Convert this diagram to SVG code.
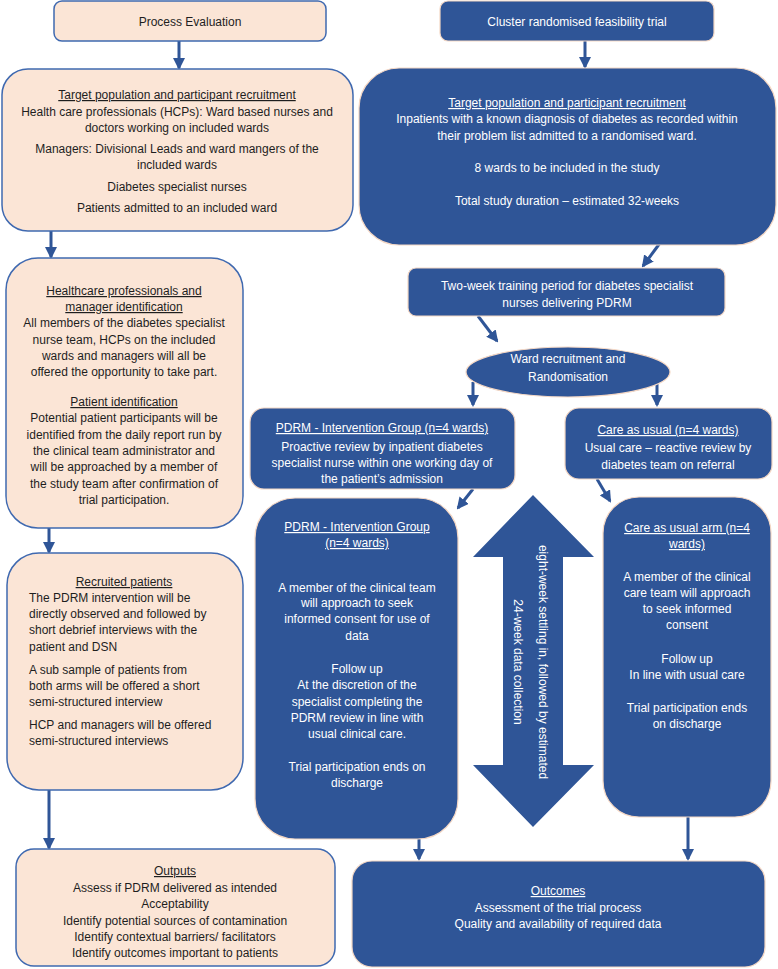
<svg xmlns="http://www.w3.org/2000/svg" width="778" height="969" viewBox="0 0 778 969">
<defs>
<marker id="ah" markerUnits="userSpaceOnUse" markerWidth="12" markerHeight="12" viewBox="0 0 12 12" refX="10" refY="6" orient="auto">
<path d="M0,0 L12,6 L0,12 Z" fill="#2F5597"/>
</marker>
</defs>
<style>
.pe{fill:#FBE5D6;stroke:#3F69B0;stroke-width:1.5}
.bl{fill:#2F5597;stroke:#F4D7C4;stroke-width:1.2}
text{font-family:"Liberation Sans",Arial,sans-serif;font-size:12px;text-anchor:middle}
.dk{fill:#1E1E1E}
.wt{fill:#FFFFFF}
.u{text-decoration:underline}
.l{text-anchor:start}
.cn{stroke:#2F5597;stroke-width:3;fill:none;marker-end:url(#ah)}
</style>
<g id="connectors">
<line class="cn" x1="179" y1="41" x2="179" y2="68"/>
<line class="cn" x1="51" y1="231" x2="51" y2="257"/>
<line class="cn" x1="49" y1="528" x2="49" y2="552"/>
<line class="cn" x1="49" y1="790" x2="49" y2="848"/>
<line class="cn" x1="585" y1="41" x2="585" y2="67"/>
<line class="cn" x1="660" y1="243" x2="643" y2="266"/>
<line class="cn" x1="478" y1="316" x2="497" y2="341"/>
<line class="cn" x1="473" y1="382" x2="473" y2="405"/>
<line class="cn" x1="657" y1="382" x2="657" y2="405"/>
<line class="cn" x1="473" y1="489" x2="458" y2="508"/>
<line class="cn" x1="597" y1="479" x2="610" y2="501"/>
<line class="cn" x1="419" y1="839" x2="419" y2="859"/>
<line class="cn" x1="688" y1="817" x2="688" y2="859"/>
</g>
<g id="process-evaluation">
<rect class="pe" x="54" y="1" width="272" height="40" rx="8"/>
<text class="dk" x="190" y="26">Process Evaluation</text>
</g>
<g id="pe-target">
<rect class="pe" x="2" y="69" width="351" height="162" rx="26"/>
<text class="dk u" x="177" y="99">Target population and participant recruitment</text>
<text class="dk" x="177" y="116">Health care professionals (HCPs): Ward based nurses and</text>
<text class="dk" x="177" y="132">doctors working on included wards</text>
<text class="dk" x="177" y="153">Managers: Divisional Leads and ward mangers of the</text>
<text class="dk" x="177" y="169">included wards</text>
<text class="dk" x="177" y="191">Diabetes specialist nurses</text>
<text class="dk" x="177" y="212">Patients admitted to an included ward</text>
</g>
<g id="pe-identification">
<rect class="pe" x="6" y="258" width="237" height="270" rx="32"/>
<text class="dk u" x="124" y="295">Healthcare professionals and</text>
<text class="dk u" x="124" y="311">manager identification</text>
<text class="dk" x="124" y="327">All members of the diabetes specialist</text>
<text class="dk" x="124" y="344">nurse team, HCPs on the included</text>
<text class="dk" x="124" y="360">wards and managers will all be</text>
<text class="dk" x="124" y="376">offered the opportunity to take part.</text>
<text class="dk u" x="124" y="406">Patient identification</text>
<text class="dk" x="124" y="422">Potential patient participants will be</text>
<text class="dk" x="124" y="439">identified from the daily report run by</text>
<text class="dk" x="124" y="455">the clinical team administrator and</text>
<text class="dk" x="124" y="471">will be approached by a member of</text>
<text class="dk" x="124" y="488">the study team after confirmation of</text>
<text class="dk" x="124" y="504">trial participation.</text>
</g>
<g id="pe-recruited">
<rect class="pe" x="7" y="553" width="236" height="237" rx="32"/>
<text class="dk u" x="124" y="586">Recruited patients</text>
<text class="dk l" x="29" y="602">The PDRM intervention will be</text>
<text class="dk l" x="29" y="618">directly observed and followed by</text>
<text class="dk l" x="29" y="634">short debrief interviews with the</text>
<text class="dk l" x="29" y="651">patient and DSN</text>
<text class="dk l" x="29" y="674">A sub sample of patients from</text>
<text class="dk l" x="29" y="690">both arms will be offered a short</text>
<text class="dk l" x="29" y="706">semi-structured interview</text>
<text class="dk l" x="29" y="729">HCP and managers will be offered</text>
<text class="dk l" x="29" y="745">semi-structured interviews</text>
</g>
<g id="pe-outputs">
<rect class="pe" x="16" y="849" width="319" height="117" rx="18"/>
<text class="dk u" x="175" y="875">Outputs</text>
<text class="dk" x="175" y="892">Assess if PDRM delivered as intended</text>
<text class="dk" x="175" y="908">Acceptability</text>
<text class="dk" x="175" y="925">Identify potential sources of contamination</text>
<text class="dk" x="175" y="941">Identify contextual barriers/ facilitators</text>
<text class="dk" x="175" y="957">Identify outcomes important to patients</text>
</g>
<g id="cluster-trial">
<rect class="bl" x="440" y="1" width="274" height="40" rx="8"/>
<text class="wt" x="577" y="26">Cluster randomised feasibility trial</text>
</g>
<g id="trial-target">
<rect class="bl" x="359" y="68" width="417" height="177" rx="40"/>
<text class="wt u" x="567" y="107">Target population and participant recruitment</text>
<text class="wt" x="567" y="123">Inpatients with a known diagnosis of diabetes as recorded within</text>
<text class="wt" x="567" y="140">their problem list admitted to a randomised ward.</text>
<text class="wt" x="567" y="172">8 wards to be included in the study</text>
<text class="wt" x="567" y="205">Total study duration – estimated 32-weeks</text>
</g>
<g id="training">
<rect class="bl" x="408" y="268" width="317" height="48" rx="8"/>
<text class="wt" x="567" y="290">Two-week training period for diabetes specialist</text>
<text class="wt" x="567" y="307">nurses delivering PDRM</text>
</g>
<g id="randomisation">
<ellipse class="bl" cx="568" cy="372" rx="102" ry="25"/>
<text class="wt" x="568" y="363">Ward recruitment and</text>
<text class="wt" x="568" y="381">Randomisation</text>
</g>
<g id="pdrm-group">
<rect class="bl" x="250" y="408" width="265" height="81" rx="14"/>
<text class="wt u" x="382" y="432">PDRM - Intervention Group (n=4 wards)</text>
<text class="wt" x="382" y="451">Proactive review by inpatient diabetes</text>
<text class="wt" x="382" y="467">specialist nurse within one working day of</text>
<text class="wt" x="382" y="483">the patient’s admission</text>
</g>
<g id="usual-group">
<rect class="bl" x="565" y="408" width="207" height="71" rx="14"/>
<text class="wt u" x="668" y="434">Care as usual (n=4 wards)</text>
<text class="wt" x="668" y="452">Usual care – reactive review by</text>
<text class="wt" x="668" y="469">diabetes team on referral</text>
</g>
<g id="pdrm-arm">
<rect class="bl" x="255" y="498" width="203" height="341" rx="40"/>
<text class="wt u" x="357" y="531">PDRM - Intervention Group</text>
<text class="wt u" x="357" y="547">(n=4 wards)</text>
<text class="wt" x="357" y="592">A member of the clinical team</text>
<text class="wt" x="357" y="607">will approach to seek</text>
<text class="wt" x="357" y="623">informed consent for use of</text>
<text class="wt" x="357" y="640">data</text>
<text class="wt" x="357" y="673">Follow up</text>
<text class="wt" x="357" y="689">At the discretion of the</text>
<text class="wt" x="357" y="706">specialist completing the</text>
<text class="wt" x="357" y="722">PDRM review in line with</text>
<text class="wt" x="357" y="738">usual clinical care.</text>
<text class="wt" x="357" y="771">Trial participation ends on</text>
<text class="wt" x="357" y="787">discharge</text>
</g>
<g id="duration-arrow">
<path d="M533,495 L594,557 L563,557 L563,765 L594,765 L533,827 L473,765 L503,765 L503,557 L473,557 Z" fill="#2F5597"/>
<text class="wt" transform="translate(539,662) rotate(90)">eight-week settling in, followed by estimated</text>
<text class="wt" transform="translate(514,662) rotate(90)">24-week data collection</text>
</g>
<g id="usual-arm">
<rect class="bl" x="603" y="497" width="168" height="320" rx="36"/>
<text class="wt u" x="687" y="532">Care as usual arm (n=4</text>
<text class="wt u" x="687" y="548">wards)</text>
<text class="wt" x="687" y="581">A member of the clinical</text>
<text class="wt" x="687" y="597">care team will approach</text>
<text class="wt" x="687" y="613">to seek informed</text>
<text class="wt" x="687" y="629">consent</text>
<text class="wt" x="687" y="663">Follow up</text>
<text class="wt" x="687" y="679">In line with usual care</text>
<text class="wt" x="687" y="712">Trial participation ends</text>
<text class="wt" x="687" y="728">on discharge</text>
</g>
<g id="outcomes">
<rect class="bl" x="352" y="861" width="413" height="106" rx="20"/>
<text class="wt u" x="558" y="895">Outcomes</text>
<text class="wt" x="558" y="912">Assessment of the trial process</text>
<text class="wt" x="558" y="928">Quality and availability of required data</text>
</g>
</svg>
